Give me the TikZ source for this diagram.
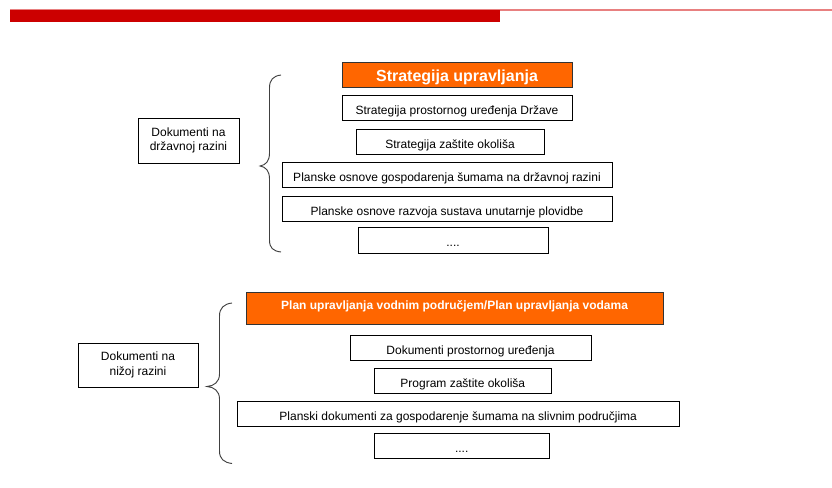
\documentclass[tikz,border=0pt]{standalone}
\usepackage{fontspec}
\setmainfont{Liberation Sans}
\definecolor{barred}{HTML}{CC0000}
\definecolor{linered}{HTML}{E88080}
\definecolor{headorange}{HTML}{FF6600}
\definecolor{bracegray}{HTML}{404040}
\tikzset{
  docbox/.style={draw=black, line width=0.6pt, fill=white, inner sep=0pt,
    font=\fontsize{9}{10.5}\selectfont, text height=12pt, text depth=1.9pt},
  headbox/.style={draw=black!80, line width=0.6pt, fill=headorange, inner sep=0pt,
    text=white},
  levelbox/.style={draw=black, line width=0.6pt, fill=white, inner sep=0pt,
    font=\fontsize{9}{10.8}\selectfont, align=center},
  bracket/.style={draw=bracegray, line width=0.7pt},
}
\begin{document}
\begin{tikzpicture}[x=0.75pt,y=-0.75pt]
\useasboundingbox (0,0) rectangle (832,488);
% title bar
\fill[linered] (10,9) rectangle (832,11);
\fill[barred] (10,10.5) rectangle (500,22);

% national level
\node[levelbox, minimum width=75.75pt, minimum height=33.75pt] (lvlA) at (188.5,140.5) {Dokumenti na\\državnoj razini};
\node[headbox, font=\bfseries\fontsize{12}{14}\selectfont, text height=12.6pt, text depth=2.5pt, minimum width=172.5pt, minimum height=18.75pt] (a1) at (457,74.5) {Strategija upravljanja};
\node[docbox, minimum width=172.5pt, minimum height=19pt] (a2) at (457,107.8) {Strategija prostornog uređenja Države};
\node[docbox, minimum width=141pt, minimum height=18.75pt] (a3) at (450,141.5) {Strategija zaštite okoliša};
\node[docbox, minimum width=247.5pt, minimum height=18.75pt] (a4) at (447,174.8) {Planske osnove gospodarenja šumama na državnoj razini};
\node[docbox, minimum width=247.5pt, minimum height=18.75pt] (a5) at (447,209) {Planske osnove razvoja sustava unutarnje plovidbe};
\node[docbox, minimum width=142.5pt, minimum height=19.25pt] (a6) at (453,240.2) {....};

\draw[bracket] (281,75) .. controls (273,76) and (269.5,80) .. (269.5,88)
  -- (269.5,153) .. controls (269.5,161) and (266,165) .. (260,166)
  .. controls (266,167) and (269.5,171) .. (269.5,179)
  -- (269.5,240) .. controls (269.5,248) and (273,251) .. (281,252);

% lower level
\node[levelbox, minimum width=90pt, minimum height=33pt] (lvlB) at (138,365) {Dokumenti na\\nižoj razini};
\node[headbox, font=\bfseries\fontsize{9}{10.5}\selectfont, text height=6.6pt, text depth=4.9pt, minimum width=312.75pt, minimum height=24pt] (b1) at (454.6,308.3) {Plan upravljanja vodnim područjem/Plan upravljanja vodama};
\node[docbox, minimum width=180.75pt, minimum height=18.75pt] (b2) at (470.5,348) {Dokumenti prostornog uređenja};
\node[docbox, minimum width=133.3pt, minimum height=18.75pt] (b3) at (462.8,380.5) {Program zaštite okoliša};
\node[docbox, minimum width=331.9pt, minimum height=18.75pt] (b4) at (458.2,413.5) {Planski dokumenti za gospodarenje šumama na slivnim područjima};
\node[docbox, minimum width=131.6pt, minimum height=18.75pt] (b5) at (461.7,445.5) {....};

\draw[bracket] (232,303) .. controls (224,304) and (219.5,308) .. (219.5,316)
  -- (219.5,374) .. controls (219.5,382) and (214,386) .. (207,386.5)
  .. controls (214,387) and (219.5,391) .. (219.5,399)
  -- (219.5,451) .. controls (219.5,459) and (224,462.5) .. (232,463.5);
\end{tikzpicture}
\end{document}
